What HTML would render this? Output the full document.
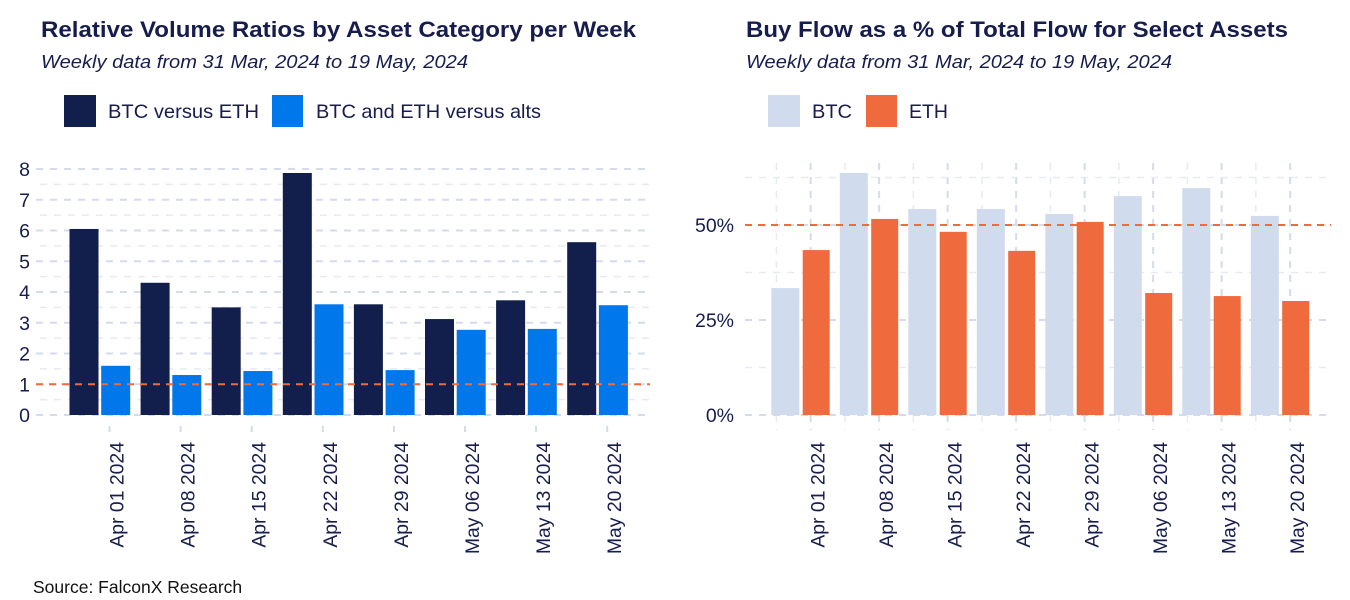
<!DOCTYPE html>
<html><head><meta charset="utf-8"><style>
html,body{margin:0;padding:0;background:#fff;}
svg{display:block;font-family:"Liberation Sans",sans-serif;}
</style></head><body>
<svg width="1350" height="600" viewBox="0 0 1350 600">
<rect width="1350" height="600" fill="#fff"/>
<text x="41" y="37" font-size="22" font-weight="bold" fill="#161d4d" textLength="595" lengthAdjust="spacingAndGlyphs">Relative Volume Ratios by Asset Category per Week</text>
<text x="41" y="68" font-size="18.5" font-style="italic" fill="#161d4d" textLength="427" lengthAdjust="spacingAndGlyphs">Weekly data from 31 Mar, 2024 to 19 May, 2024</text>
<rect x="64" y="95" width="32" height="32" fill="#121e4b"/>
<text x="108" y="118" font-size="19.5" fill="#161d4d" textLength="151" lengthAdjust="spacingAndGlyphs">BTC versus ETH</text>
<rect x="272" y="95" width="31" height="32" fill="#0077ea"/>
<text x="316" y="118" font-size="19.5" fill="#161d4d" textLength="225" lengthAdjust="spacingAndGlyphs">BTC and ETH versus alts</text>

<text x="746" y="37" font-size="22" font-weight="bold" fill="#161d4d" textLength="542" lengthAdjust="spacingAndGlyphs">Buy Flow as a % of Total Flow for Select Assets</text>
<text x="746" y="68" font-size="18.5" font-style="italic" fill="#161d4d" textLength="426" lengthAdjust="spacingAndGlyphs">Weekly data from 31 Mar, 2024 to 19 May, 2024</text>
<rect x="768" y="95" width="32" height="32" fill="#d0dbed"/>
<text x="812" y="118" font-size="19.5" fill="#161d4d" textLength="40" lengthAdjust="spacingAndGlyphs">BTC</text>
<rect x="866" y="95" width="31" height="32" fill="#ef6a3c"/>
<text x="909" y="118" font-size="19.5" fill="#161d4d" textLength="39" lengthAdjust="spacingAndGlyphs">ETH</text>

<g id="left"></g>
<g id="right"></g>
<text x="33" y="593" font-size="17.5" fill="#111">Source: FalconX Research</text>
</svg>
<script>
const weeks = ["Apr 01 2024","Apr 08 2024","Apr 15 2024","Apr 22 2024","Apr 29 2024","May 06 2024","May 13 2024","May 20 2024"];
const btcVsEth = [6.05,4.3,3.5,7.87,3.6,3.12,3.73,5.62];
const btcEthVsAlts = [1.6,1.3,1.43,3.6,1.46,2.77,2.8,3.57];
const leftTicks = [0,1,2,3,4,5,6,7,8];
const btcBuy = [33.4,63.7,54.2,54.2,52.9,57.6,59.7,52.4];
const ethBuy = [43.4,51.6,48.2,43.2,50.8,32.1,31.3,30.0];
const rightTicks = [0,25,50];
const rightTickLabels = ["0%","25%","50%"];

const NS="http://www.w3.org/2000/svg";
function mk(parent,tag,attrs){const e=document.createElementNS(NS,tag);for(const k in attrs)e.setAttribute(k,attrs[k]);parent.appendChild(e);return e;}

// Left chart
const L=document.getElementById('left');
const ly=v=>415-v*30.75;
const lx=i=>109.5+i*71.1;
for(let v=0;v<=8;v+=0.5){
  const major=Number.isInteger(v);
  const g=mk(L,'line',{x1:major?36:40,x2:650,y1:ly(v),y2:ly(v),stroke:major?'#d3dbec':'#e6eaf4','stroke-width':major?2:1.5,'stroke-dasharray':'7,7'});
  
  
}
leftTicks.forEach(v=>{
  const t=mk(L,'text',{x:30,y:ly(v)+7,'font-size':19.5,'text-anchor':'end',fill:'#161d4d'});t.textContent=v;
  
  
});
weeks.forEach((w,i)=>{
  const a=mk(L,'rect',{x:lx(i)-40,y:ly(btcVsEth[i]),width:29,height:ly(0)-ly(btcVsEth[i]),fill:'#121e4b'});
  
  
  const b=mk(L,'rect',{x:lx(i)-8.3,y:ly(btcEthVsAlts[i]),width:29,height:ly(0)-ly(btcEthVsAlts[i]),fill:'#0077ea'});
  
  
  const tk=mk(L,'line',{x1:lx(i),x2:lx(i),y1:426,y2:432,stroke:'#d3dbec','stroke-width':2});
  
  
  const t=mk(L,'text',{x:0,y:0,'font-size':19.4,'text-anchor':'end',fill:'#161d4d',transform:`translate(${lx(i)+14},442) rotate(-90)`});t.textContent=w;
  
  
});
const r1=mk(L,'line',{x1:36,x2:650,y1:ly(1),y2:ly(1),stroke:'#ef6a3c','stroke-width':2,'stroke-dasharray':'7,6'});



// Right chart
const R=document.getElementById('right');
const ry=v=>415-v*3.8;
const rx=i=>810.3+i*68.5;
for(let k=0;k<16;k++){
  const x=776.4+k*34.25;const major=k%2===1;
  const g=mk(R,'line',{x1:x,x2:x,y1:163,y2:430,stroke:major?'#d3dbec':'#e6eaf4','stroke-width':major?2:1.5,'stroke-dasharray':'7,7'});
  
  
}
[0,12.5,25,37.5,50,62.5].forEach(v=>{
  const major=v%25===0;
  const g=mk(R,'line',{x1:745,x2:1331,y1:ry(v),y2:ry(v),stroke:major?'#d3dbec':'#e6eaf4','stroke-width':major?2:1.5,'stroke-dasharray':'7,7'});
  
  
});
rightTicks.forEach((v,j)=>{
  const t=mk(R,'text',{x:734,y:ry(v)+7,'font-size':19.5,'text-anchor':'end',fill:'#161d4d'});t.textContent=rightTickLabels[j];
  
  
});
weeks.forEach((w,i)=>{
  const a=mk(R,'rect',{x:rx(i)-39,y:ry(btcBuy[i]),width:28,height:ry(0)-ry(btcBuy[i]),fill:'#d0dbed'});
  
  
  const b=mk(R,'rect',{x:rx(i)-7.6,y:ry(ethBuy[i]),width:27,height:ry(0)-ry(ethBuy[i]),fill:'#ef6a3c'});
  
  
  const t=mk(R,'text',{x:0,y:0,'font-size':19.4,'text-anchor':'end',fill:'#161d4d',transform:`translate(${rx(i)+14},442) rotate(-90)`});t.textContent=w;
  
  
});
const r2=mk(R,'line',{x1:745,x2:1331,y1:ry(50),y2:ry(50),stroke:'#ef6a3c','stroke-width':2,'stroke-dasharray':'7,6'});


</script>
</body></html>
